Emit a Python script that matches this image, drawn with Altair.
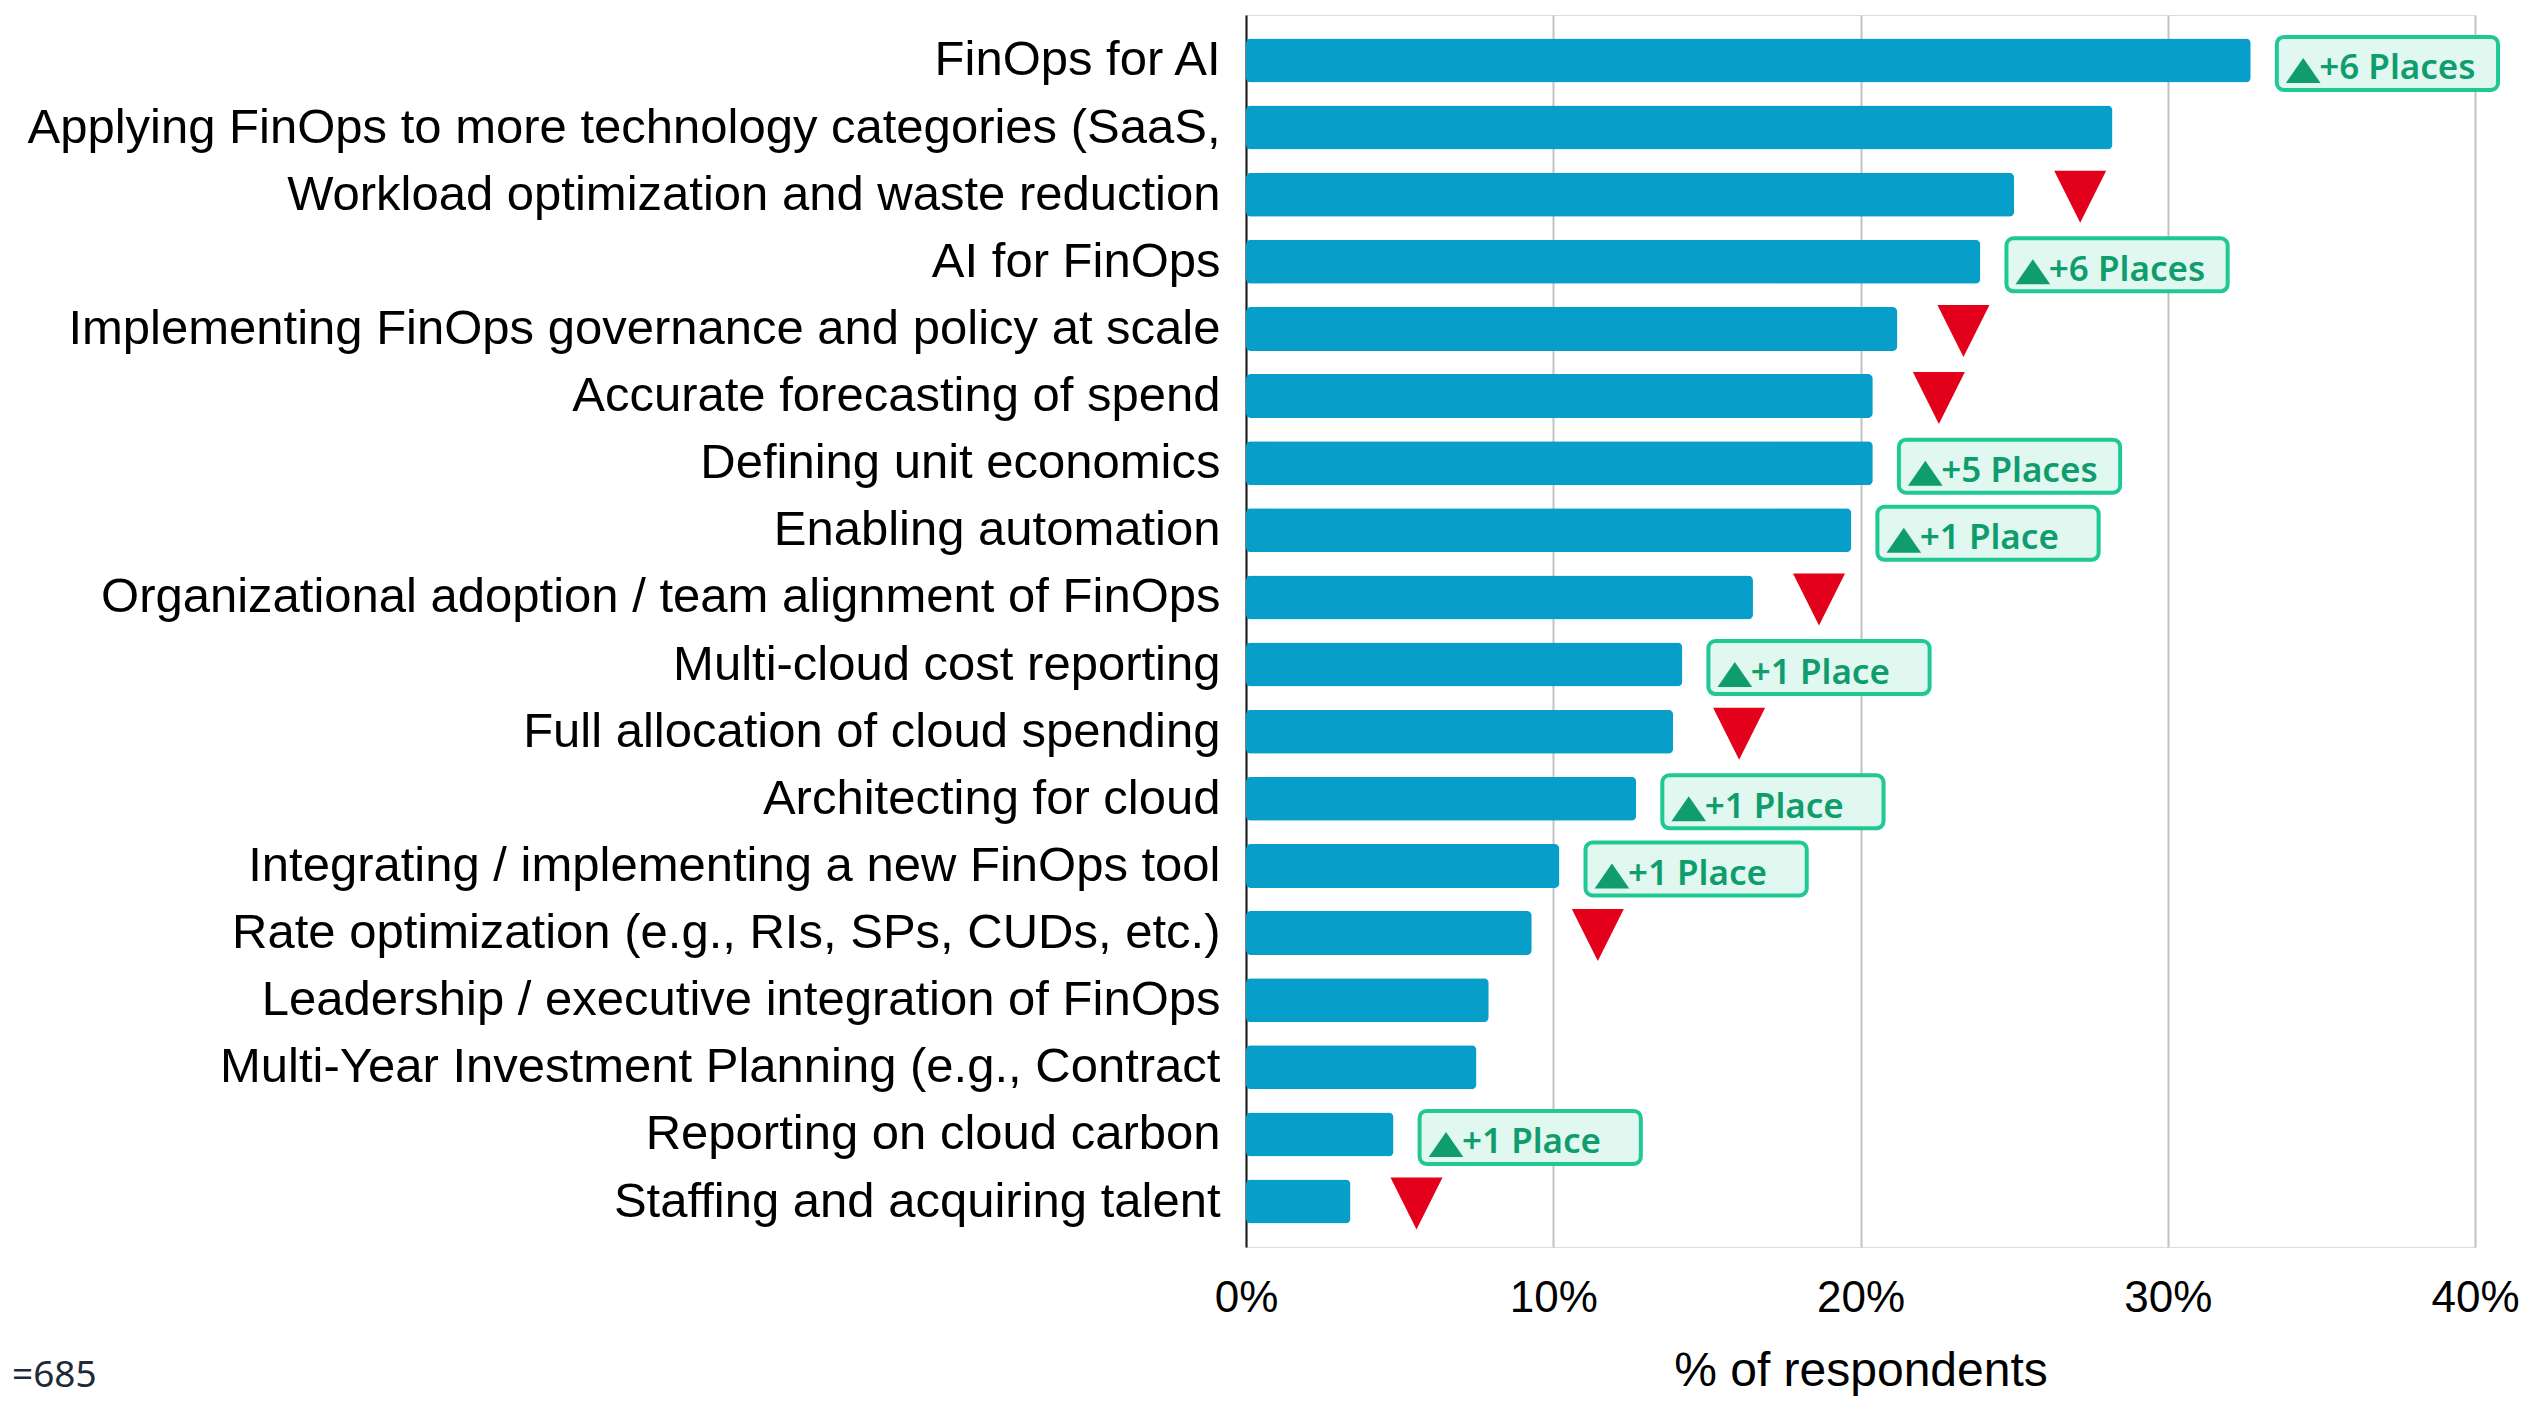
import altair as alt
import pandas as pd

categories = [
    "FinOps for AI",
    "Applying FinOps to more technology categories (SaaS,",
    "Workload optimization and waste reduction",
    "AI for FinOps",
    "Implementing FinOps governance and policy at scale",
    "Accurate forecasting of spend",
    "Defining unit economics",
    "Enabling automation",
    "Organizational adoption / team alignment of FinOps",
    "Multi-cloud cost reporting",
    "Full allocation of cloud spending",
    "Architecting for cloud",
    "Integrating / implementing a new FinOps tool",
    "Rate optimization (e.g., RIs, SPs, CUDs, etc.)",
    "Leadership / executive integration of FinOps",
    "Multi-Year Investment Planning (e.g., Contract",
    "Reporting on cloud carbon",
    "Staffing and acquiring talent",
]
values = [32.7, 28.2, 25.0, 23.9, 21.2, 20.4, 20.4, 19.7, 16.5, 14.2,
          13.9, 12.7, 10.2, 9.3, 7.9, 7.5, 4.8, 3.4]
rank_change = ["+6 Places", "", "down", "+6 Places", "down", "down",
               "+5 Places", "+1 Place", "down", "+1 Place", "down",
               "+1 Place", "+1 Place", "down", "", "", "+1 Place", "down"]
x_ticks = [0, 10, 20, 30, 40]
x_title = "% of respondents"
sample_note = "=685"

df = pd.DataFrame({"category": categories, "value": values, "change": rank_change})

LABEL_FONT = "Liberation Sans"
GREEN = "#109d6d"

y_enc = alt.Y(
    "category:N",
    sort=categories,
    scale=alt.Scale(paddingInner=0.345, paddingOuter=0.35),
    axis=alt.Axis(
        title=None, labelFont=LABEL_FONT, labelFontSize=49, labelColor="#000000",
        labelPadding=26, ticks=False, domain=True, domainColor="#1a1a1a",
        domainWidth=2, labelLimit=0, grid=False,
    ),
)

x_axis = alt.Axis(
    title=x_title, values=x_ticks, labelExpr="datum.value + '%'",
    labelFont=LABEL_FONT, labelFontSize=44, labelColor="#000000",
    labelPadding=29, labelFlush=False, ticks=False, domain=False, grid=True,
    gridColor="#c2c2c2", gridWidth=2, titleFont=LABEL_FONT,
    titleFontSize=48, titleFontWeight="normal", titleColor="#000000",
    titlePadding=27,
)
x_scale = alt.Scale(domain=[0, 40], nice=False)

base = alt.Chart(df)

bars = base.mark_bar(color="#079fc9", cornerRadius=5, height=44).encode(
    x=alt.X("value:Q", scale=x_scale, axis=x_axis),
    y=y_enc,
)

badge_df = base.transform_filter(
    "datum.change != '' && datum.change != 'down'"
).transform_calculate(
    badge_start="datum.value + 0.85",
    badge_end="datum.value + 0.85 + 7.2",
    arrow_x="datum.value + 0.85 + 0.86",
    text_x="datum.value + 0.85 + 1.38",
)

badges = badge_df.mark_bar(
    height=53, fill="#e1f8f1", stroke="#20c896", strokeWidth=4, cornerRadius=7,
    yOffset=3,
).encode(
    x=alt.X("badge_start:Q", scale=x_scale, axis=x_axis),
    x2="badge_end:Q",
    y=y_enc,
)

badge_arrow = badge_df.mark_point(
    shape="M-1,0.72L1,0.72L0,-0.72Z", size=1200, filled=True, color=GREEN,
    opacity=1, strokeWidth=0, yOffset=10,
).encode(
    x=alt.X("arrow_x:Q", scale=x_scale, axis=x_axis),
    y=y_enc,
)

badge_text = badge_df.mark_text(
    font="Noto Sans", fontSize=35, fontWeight=600, color=GREEN,
    align="left", baseline="alphabetic", dy=19,
).encode(
    x=alt.X("text_x:Q", scale=x_scale, axis=x_axis),
    y=y_enc,
    text="change:N",
)

down = base.transform_filter("datum.change == 'down'").transform_calculate(
    tri_x="datum.value + 2.15"
).mark_point(
    shape="M-1,-1L1,-1L0,1Z", size=2704, filled=True, color="#e2001a",
    opacity=1, strokeWidth=0, yOffset=2,
).encode(
    x=alt.X("tri_x:Q", scale=x_scale, axis=x_axis),
    y=y_enc,
)

note = alt.Chart(pd.DataFrame({"t": [sample_note]})).mark_text(
    font="Noto Sans", fontSize=37, color="#1f2a36", align="left", baseline="alphabetic"
).encode(
    text="t:N",
    x=alt.value(-1234),
    y=alt.value(1372),
)

chart = alt.layer(bars, badges, badge_arrow, badge_text, down, note).properties(
    width=1229,
    height=1232,
    padding={"left": 1238, "top": 7, "right": 45, "bottom": 151},
    autosize=alt.AutoSizeParams(type="none"),
).configure_view(stroke=None).configure(background="#ffffff")

chart.save("out.html", embed_options={"renderer": "svg", "actions": False})
